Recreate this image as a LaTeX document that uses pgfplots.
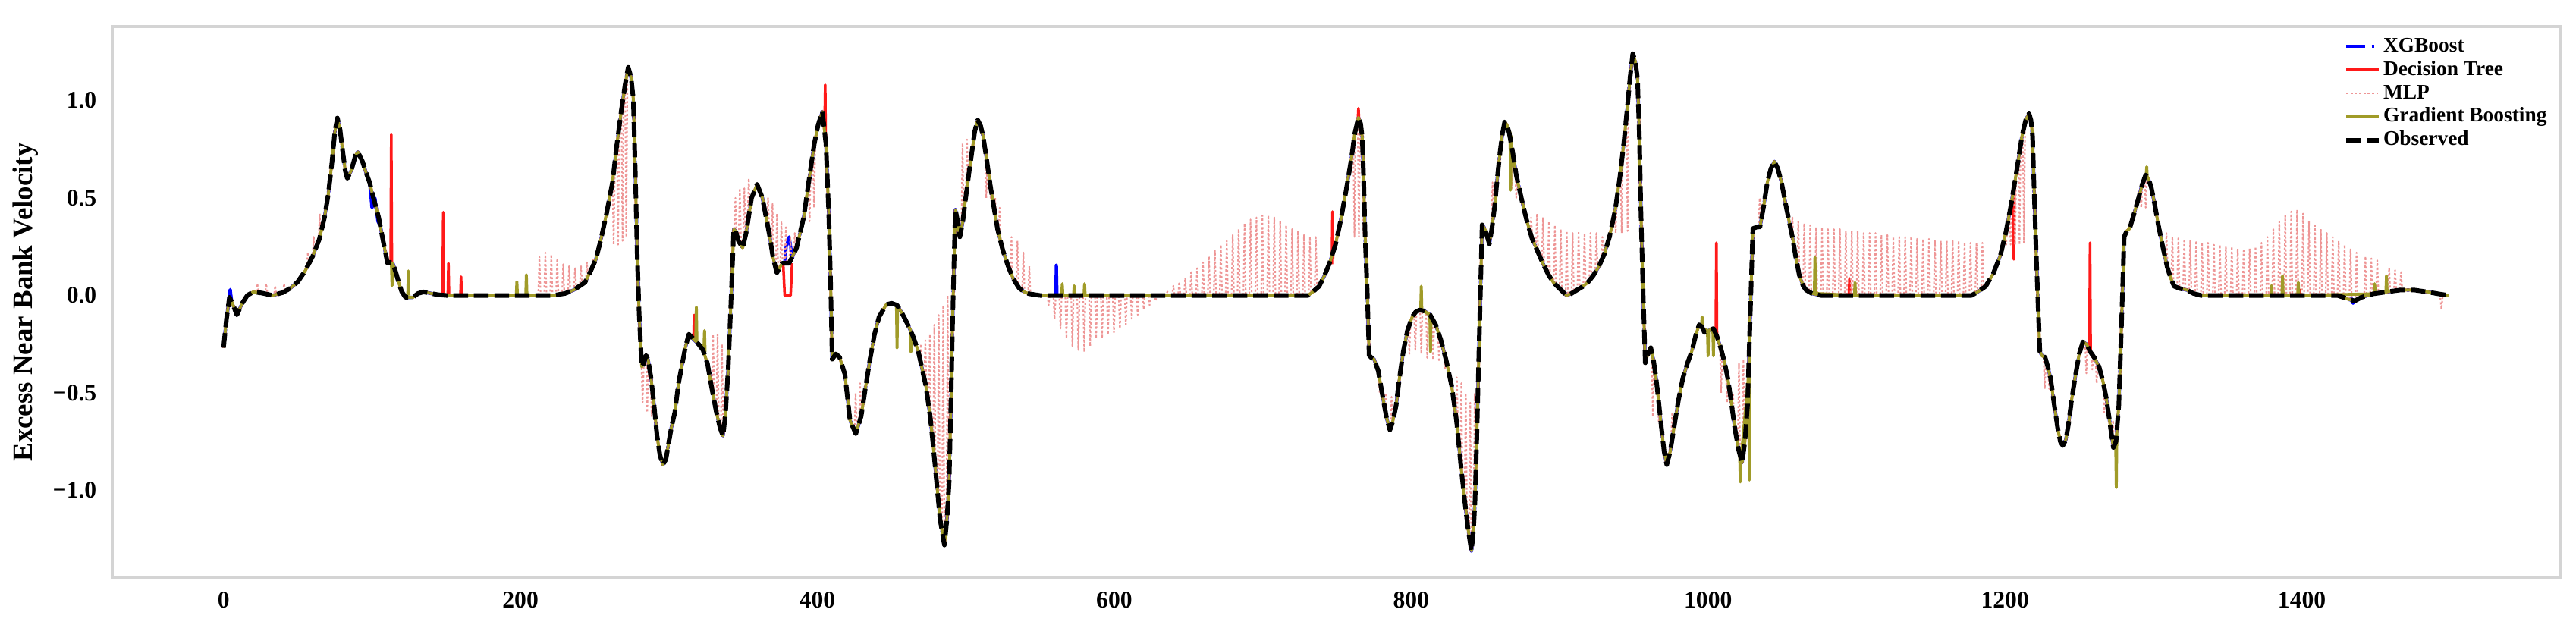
\documentclass[border=0pt]{standalone}
\usepackage{fontspec}
\setmainfont{Liberation Serif}
\usepackage{pgfplots}
\pgfplotsset{compat=1.18}
\usepackage{pgfplotstable}
\definecolor{xgbc}{RGB}{0,0,255}
\definecolor{dtc}{RGB}{255,25,25}
\definecolor{mlpc}{RGB}{238,150,150}
\definecolor{gbc}{RGB}{160,155,40}
\definecolor{framec}{RGB}{212,212,212}

\pgfplotstableread{
x y
0 -0.268
2 -0.12
4 -0.01
6 -0.04
9 -0.10
12.6 -0.04
16 0.0
20 0.018
26 0.012
33 0.0
40 0.015
45 0.037
50 0.07
55 0.126
60 0.2
64.6 0.29
68 0.40
70.6 0.52
73 0.68
75 0.84
76.7 0.91
78.5 0.85
80 0.756
82 0.64
83.4 0.60
86 0.64
89 0.72
90.5 0.736
93.6 0.687
96 0.63
98.4 0.58
101 0.50
104.5 0.40
107 0.30
110.5 0.165
112 0.17
114 0.165
116 0.12
118 0.067
120 0.02
122.6 -0.01
127.5 -0.01
131 0.01
134.7 0.018
140 0.01
144 0.004
150 0.0
170 0.0
190 0.0
210 0.0
222 0.0
230 0.01
236 0.028
243.5 0.067
247 0.12
250.8 0.185
254 0.28
258 0.42
262 0.58
265 0.776
268 0.95
270.5 1.08
272.6 1.17
274.5 1.12
276 1.01
277.5 0.6
278.6 0.22
280 -0.1
281.7 -0.366
283 -0.35
284.6 -0.307
286 -0.33
288 -0.425
290 -0.56
292 -0.72
294 -0.82
296 -0.868
298 -0.84
301.6 -0.68
304 -0.60
306.5 -0.45
308.6 -0.366
311 -0.27
313.4 -0.199
315 -0.21
317 -0.228
320 -0.25
323 -0.28
326 -0.35
329 -0.48
332 -0.60
334.5 -0.68
336.4 -0.72
338 -0.62
340 -0.37
342 0.0
343.7 0.34
345 0.33
346.8 0.28
349.7 0.244
352 0.32
355.7 0.50
359.4 0.57
363 0.50
365.5 0.40
368 0.30
370 0.20
372.7 0.116
376.3 0.165
381 0.165
386 0.244
390.8 0.40
395.6 0.657
398 0.78
400.5 0.874
403.4 0.943
405.8 0.776
407.7 0.42
409 0.05
410 -0.327
412.5 -0.30
415 -0.317
418.6 -0.405
422 -0.64
425.9 -0.71
429.5 -0.62
432.5 -0.47
435.5 -0.327
438.5 -0.2
441.6 -0.11
446.4 -0.047
450 -0.04
453.7 -0.05
457 -0.09
461 -0.15
464.5 -0.21
468 -0.287
473 -0.46
476 -0.62
477.9 -0.76
480.5 -0.97
482.7 -1.15
485.6 -1.28
487.3 -1.15
488.8 -0.957
490 -0.55
491 -0.17
492 0.15
493 0.44
494.5 0.38
496 0.30
498 0.38
499.6 0.48
502 0.62
504.5 0.756
506 0.84
508 0.90
510 0.87
511.7 0.815
514 0.70
516.6 0.56
519 0.45
521.4 0.34
525 0.23
528.7 0.146
532 0.085
536 0.037
540 0.015
543 0.008
550 0.0
600 0.0
650 0.0
700 0.0
730.7 0.0
734 0.02
738 0.047
741.5 0.1
745 0.165
749 0.26
752.4 0.38
756 0.53
759.7 0.70
762 0.83
764.5 0.913
766 0.88
767 0.815
768 0.60
769 0.30
770.5 0.0
771.7 -0.307
773.3 -0.32
775 -0.327
777.8 -0.386
779.5 -0.46
781.4 -0.543
783.5 -0.63
785.7 -0.69
787.5 -0.65
789.9 -0.563
792 -0.43
794.7 -0.287
797.5 -0.18
800.7 -0.11
803 -0.085
805.6 -0.075
809 -0.08
812.8 -0.10
816.5 -0.15
820 -0.228
823.5 -0.33
827.3 -0.465
830.5 -0.64
833.3 -0.858
836 -1.05
838.2 -1.19
840.6 -1.31
842 -1.2
843 -1.055
844.3 -0.7
845.4 -0.366
846.6 0.0
847.8 0.362
849 0.35
850 0.333
852.7 0.264
854.5 0.35
856.3 0.46
858 0.60
859.9 0.736
861.5 0.83
863 0.89
864.5 0.875
866 0.835
868.5 0.73
870.8 0.618
874.5 0.49
878 0.38
881.5 0.29
885.3 0.224
889 0.16
892.5 0.106
896 0.065
899.8 0.037
904.6 0.0
908 0.01
911.8 0.028
915.5 0.045
919 0.067
922.5 0.10
926.3 0.146
930 0.21
933.6 0.30
937.5 0.44
940.8 0.618
943.5 0.80
945.7 0.972
947.5 1.12
949.3 1.24
951 1.2
952.5 1.11
953.8 0.8
954.8 0.42
956.3 0.0
957.7 -0.346
959.5 -0.3
961.4 -0.268
963.2 -0.33
965 -0.425
966.8 -0.55
968.6 -0.68
970.4 -0.80
972.2 -0.868
974.5 -0.8
977 -0.68
980 -0.54
983 -0.425
986 -0.35
989 -0.287
991.5 -0.21
994 -0.15
995.8 -0.16
997.6 -0.19
1000.5 -0.18
1003.6 -0.17
1006 -0.21
1008.5 -0.268
1011 -0.34
1013.3 -0.425
1015.7 -0.55
1018 -0.68
1020.5 -0.79
1022.9 -0.858
1024.8 -0.75
1026.6 -0.563
1028.4 -0.1
1030.2 0.343
1032.6 0.35
1035 0.352
1037.5 0.46
1039.9 0.579
1042.3 0.65
1044.7 0.687
1047 0.65
1049.5 0.579
1053 0.44
1056.8 0.30
1059 0.2
1061.4 0.106
1064 0.05
1066 0.028
1070 0.01
1076 0.0
1120 0.0
1177.5 0.0
1182 0.02
1187 0.047
1192 0.11
1196.9 0.205
1200.5 0.32
1204 0.46
1207.7 0.63
1211.4 0.815
1214 0.90
1216.2 0.933
1217.5 0.9
1218.6 0.815
1219.8 0.5
1221 0.224
1222.3 -0.05
1223.5 -0.287
1225 -0.31
1227 -0.317
1229 -0.37
1230.7 -0.425
1233 -0.55
1235.5 -0.68
1237.3 -0.75
1239 -0.77
1241 -0.74
1242.8 -0.66
1245 -0.53
1247.6 -0.405
1250 -0.3
1252.5 -0.238
1255 -0.25
1257.3 -0.287
1260.3 -0.32
1263.4 -0.366
1266 -0.44
1268.2 -0.524
1270.6 -0.65
1273 -0.78
1274.8 -0.75
1276.7 -0.563
1278.5 -0.15
1280.3 0.30
1282 0.33
1284 0.343
1287 0.42
1290 0.50
1292.5 0.57
1294.8 0.618
1296.5 0.6
1298.4 0.56
1300.8 0.47
1303.3 0.362
1306.3 0.25
1309.3 0.146
1311.6 0.09
1314 0.047
1318 0.035
1322.6 0.028
1327 0.01
1332 0.0
1380 0.0
1424 0.0
1428 -0.01
1431.4 -0.02
1435.7 -0.028
1440 -0.01
1448 0.008
1457 0.018
1466.5 0.028
1475.5 0.028
1484.6 0.018
1492 0.008
1499 0.0
}\obs

\begin{document}
\begin{tikzpicture}
\begin{axis}[
  scale only axis, width=32.27cm, height=7.27cm,
  xmin=-74.95, xmax=1573.95, ymin=-1.449, ymax=1.379,
  unbounded coords=jump,
  axis line style={draw=framec, line width=0.9pt},
  major tick length=0pt,
  xtick={0,200,400,600,800,1000,1200,1400},
  xticklabels={0,200,400,600,800,1000,1200,1400},
  ytick={-1,-0.5,0,0.5,1},
  yticklabels={−1.0,−0.5,0.0,0.5,1.0},
  ticklabel style={font=\fontsize{9}{10}\selectfont\bfseries},
  xticklabel style={inner sep=0pt, yshift=-0.18cm},
  yticklabel style={inner sep=0pt, xshift=-0.2cm},
  ylabel={Excess Near Bank Velocity},
  ylabel style={font=\fontsize{10.5}{12}\selectfont\bfseries, at={(axis description cs:-0.0353,0.5)}, anchor=center},
  legend style={draw=none, fill=none, at={(1,1)}, anchor=north east, xshift=-0.14cm, yshift=-0.1cm,
    font=\fontsize{7.8}{9}\selectfont\bfseries, inner sep=0pt, row sep=0pt,
    nodes={inner sep=0.8pt, text height=5.6pt, text depth=1.6pt}},
  legend cell align=left,
  legend image code/.code={\draw[#1] (0cm,0cm) -- (0.43cm,0cm);},
  every axis plot/.append style={line join=round},
]
% XGBoost
\addplot[color=xgbc, line width=1.3pt, dash pattern=on 7pt off 2.5pt on 1pt off 2.5pt] table[x=x,y=y] {\obs};
\addlegendentry{XGBoost}
\addplot[color=xgbc, line width=1.2pt, forget plot] coordinates {
(3.5,-0.02)(4.5,0.03)(5.5,-0.03)(6,nan)
(98.4,0.58)(100,0.45)(102,0.5)(104,0.38)(105.5,0.36)(106,nan)
(378,0.165)(379,0.25)(381,0.3)(383,0.2)(384.5,0.2)(385,nan)
(560.6,0)(561,0.155)(561.4,0)(562,nan)
(1433,-0.01)(1434.5,-0.04)(1436,-0.02)
};
% Decision Tree
\addplot[color=dtc, line width=1pt] table[x=x,y=y] {\obs};
\addlegendentry{Decision Tree}
\addplot[color=dtc, line width=1pt, forget plot] coordinates {
(112.6,0.17)(113,0.825)(113.4,0.165)(114,nan)
(147.6,0)(148,0.427)(148.4,0)(151.1,0)(151.5,0.165)(151.9,0)(159.6,0)(160,0.096)(160.4,0)(161,nan)
(316.6,-0.225)(317,-0.10)(317.4,-0.23)(318,nan)
(377,0.165)(378,0.0)(382,0.0)(383,0.165)(384,nan)
(404.9,0.86)(405.3,1.08)(405.7,0.75)(407,nan)
(746.6,0.16)(747,0.43)(747.4,0.19)(748,nan)
(764.1,0.9)(764.5,0.96)(764.9,0.9)(766,nan)
(1005.2,-0.2)(1005.6,0.27)(1006,-0.2)(1007,nan)
(1094.9,0)(1095.3,0.087)(1095.7,0)(1097,nan)
(1205.6,0.52)(1206,0.185)(1206.4,0.55)(1207,nan)
(1256.9,-0.28)(1257.3,0.27)(1257.7,-0.29)(1259,nan)
(1398.1,0)(1398.5,0.03)(1398.9,0)
};
% MLP
\addplot[color=mlpc, line width=0.6pt, dash pattern=on 0.8pt off 0.8pt] table[x=x,y=y] {\obs};
\addlegendentry{MLP}
\addplot[color=mlpc, line width=0.6pt, dash pattern=on 0.8pt off 0.8pt, forget plot] coordinates {
(22,0.02)(22.8,0.06)(23.6,0.02)(28,0.01)(28.8,0.06)(29.6,0.01)(34,0.0)(34.8,0.05)(35.6,0.0)(40,0.015)(40.8,0.06)(41.6,0.02)(44,0.03)(44.5,nan)
(56,0.14)(56.8,0.22)(57.6,0.16)(60,0.2)(60.8,0.3)(61.6,0.22)(64,0.28)(64.8,0.42)(65.6,0.31)(66,nan)
(212,0)(212.8,0.2)(213.6,0)(216,0)(216.8,0.22)(217.6,0)(220,0)(220.8,0.21)(221.6,0)(224,0)(224.8,0.19)(225.6,0)(228,0.005)(228.8,0.16)(229.6,0.008)(232,0.015)(232.8,0.15)(233.6,0.02)(236,0.028)(236.8,0.14)(237.6,0.035)(240,0.045)(240.8,0.15)(241.6,0.05)(244,0.07)(244.8,0.17)(245.6,0.09)(248,0.14)(248.8,0.19)(249.6,0.16)(250,nan)
(262,0.58)(262.8,0.26)(263.6,0.66)(265,0.78)(265.8,0.26)(266.6,0.85)(268,0.95)(268.8,0.28)(269.6,1.02)(270.5,1.08)(271.3,0.3)(272.1,1.15)(273,nan)
(281.5,-0.35)(282.3,-0.55)(283.1,-0.35)(284.6,-0.307)(285.4,-0.6)(286.2,-0.34)(287.6,-0.4)(288.4,-0.62)(289.2,-0.5)(290,nan)
(329,-0.48)(329.8,-0.2)(330.6,-0.53)(332,-0.6)(332.8,-0.2)(333.6,-0.65)(335,-0.7)(335.8,-0.25)(336.6,-0.71)(337,nan)
(344,0.34)(344.8,0.5)(345.6,0.32)(347,0.28)(347.8,0.55)(348.6,0.26)(350,0.25)(350.8,0.55)(351.6,0.3)(353,0.38)(353.8,0.6)(354.6,0.45)(355,nan)
(366,0.38)(366.8,0.5)(367.6,0.32)(369,0.25)(369.8,0.47)(370.6,0.18)(372,0.13)(372.8,0.42)(373.6,0.12)(375,0.15)(375.8,0.38)(376.6,0.165)(378,0.165)(378.8,0.35)(379.6,0.165)(381,0.165)(381.8,0.3)(382.6,0.18)(384,0.21)(384.8,0.32)(385.6,0.23)(386,nan)
(394,0.58)(394.8,0.38)(395.6,0.66)(397,0.74)(397.8,0.45)(398.6,0.8)(399,nan)
(425,-0.71)(425.8,-0.5)(426.6,-0.7)(428,-0.66)(428.8,-0.45)(429.6,-0.62)(430,nan)
(469,-0.33)(469.8,-0.25)(470.6,-0.37)(472,-0.42)(472.8,-0.23)(473.6,-0.48)(475,-0.57)(475.8,-0.2)(476.6,-0.64)(478,-0.77)(478.8,-0.15)(479.6,-0.87)(481,-1.0)(481.8,-0.1)(482.6,-1.14)(484,-1.22)(484.8,-0.05)(485.6,-1.28)(487,-1.18)(487.8,0.0)(488.6,-0.96)(489,nan)
(497,0.33)(497.8,0.78)(498.6,0.4)(500,0.5)(500.8,0.8)(501.6,0.58)(502,nan)
(513,0.74)(513.8,0.5)(514.6,0.68)(516,0.58)(516.8,0.5)(517.6,0.52)(519,0.45)(519.8,0.5)(520.6,0.38)(522,0.32)(522.8,0.45)(523.6,0.27)(524,nan)
(530,0.12)(530.8,0.3)(531.6,0.09)(534,0.06)(534.8,0.28)(535.6,0.045)(538,0.03)(538.8,0.22)(539.6,0.02)(542,0.01)(542.8,0.15)(543.6,0.008)(544,nan)
(555,0)(555.8,-0.05)(556.6,0)(559,0)(559.8,-0.12)(560.6,0)(563,0)(563.8,-0.17)(564.6,0)(567,0)(567.8,-0.22)(568.6,0)(571,0)(571.8,-0.26)(572.6,0)(575,0)(575.8,-0.28)(576.6,0)(579,0)(579.8,-0.29)(580.6,0)(583,0)(583.8,-0.26)(584.6,0)(587,0)(587.8,-0.22)(588.6,0)(591,0)(591.8,-0.22)(592.6,0)(595,0)(595.8,-0.2)(596.6,0)(599,0)(599.8,-0.19)(600.6,0)(603,0)(603.8,-0.17)(604.6,0)(607,0)(607.8,-0.15)(608.6,0)(611,0)(611.8,-0.12)(612.6,0)(615,0)(615.8,-0.1)(616.6,0)(619,0)(619.8,-0.07)(620.6,0)(623,0)(623.8,-0.05)(624.6,0)(627,0)(627.8,-0.03)(628.6,0)
(635,0)(635.8,0.02)(636.6,0)(639,0)(639.8,0.05)(640.6,0)(643,0)(643.8,0.07)(644.6,0)(647,0)(647.8,0.09)(648.6,0)(651,0)(651.8,0.12)(652.6,0)(655,0)(655.8,0.14)(656.6,0)(659,0)(659.8,0.17)(660.6,0)(663,0)(663.8,0.2)(664.6,0)(667,0)(667.8,0.23)(668.6,0)(671,0)(671.8,0.26)(672.6,0)(675,0)(675.8,0.28)(676.6,0)(679,0)(679.8,0.31)(680.6,0)(683,0)(683.8,0.34)(684.6,0)(687,0)(687.8,0.37)(688.6,0)(691,0)(691.8,0.39)(692.6,0)(695,0)(695.8,0.4)(696.6,0)(699,0)(699.8,0.41)(700.6,0)(703,0)(703.8,0.41)(704.6,0)(707,0)(707.8,0.4)(708.6,0)(711,0)(711.8,0.38)(712.6,0)(715,0)(715.8,0.36)(716.6,0)(719,0)(719.8,0.34)(720.6,0)(723,0)(723.8,0.33)(724.6,0)(727,0)(727.8,0.31)(728.6,0)(731,0.005)(731.8,0.3)(732.6,0.01)(735,0.03)(735.8,0.3)(736.6,0.04)(737,nan)
(761,0.77)(761.8,0.3)(762.6,0.86)(764,0.91)(764.8,0.3)(765.6,0.9)(767,0.815)(767.8,0.32)(768.4,0.5)(769,nan)
(778,-0.4)(778.8,-0.5)(779.6,-0.46)(782,-0.57)(782.8,-0.5)(783.6,-0.63)(786,-0.69)(786.8,-0.52)(787.6,-0.65)(788,nan)
(798,-0.16)(798.8,-0.3)(799.6,-0.13)(802,-0.095)(802.8,-0.28)(803.6,-0.085)(806,-0.075)(806.8,-0.3)(807.6,-0.078)(810,-0.085)(810.8,-0.32)(811.6,-0.095)(814,-0.12)(814.8,-0.33)(815.6,-0.14)(818,-0.18)(818.8,-0.34)(819.6,-0.21)(822,-0.29)(822.8,-0.38)(823.6,-0.33)(824,nan)
(830,-0.6)(830.8,-0.42)(831.6,-0.72)(833,-0.85)(833.8,-0.45)(834.6,-0.95)(836,-1.05)(836.8,-0.5)(837.6,-1.15)(839,-1.25)(839.8,-0.55)(840.6,-1.31)(842,-1.2)(842.8,-0.5)(843.6,-0.85)(844,nan)
(854,0.33)(854.8,0.58)(855.6,0.42)(857,0.55)(857.8,0.6)(858.6,0.6)(859,nan)
(867,0.8)(867.8,0.55)(868.6,0.74)(870,0.65)(870.8,0.5)(871.6,0.6)(872,nan)
(880,0.33)(880.8,0.4)(881.6,0.3)(884,0.24)(884.8,0.42)(885.6,0.22)(888,0.17)(888.8,0.4)(889.6,0.16)(892,0.11)(892.8,0.38)(893.6,0.1)(896,0.065)(896.8,0.36)(897.6,0.06)(900,0.035)(900.8,0.34)(901.6,0.03)(904,0.0)(904.8,0.33)(905.6,0.0)(908,0.01)(908.8,0.32)(909.6,0.015)(912,0.03)(912.8,0.33)(913.6,0.035)(916,0.05)(916.8,0.32)(917.6,0.055)(920,0.08)(920.8,0.32)(921.6,0.09)(924,0.12)(924.8,0.32)(925.6,0.14)(928,0.18)(928.8,0.3)(929.6,0.2)(930,nan)
(937,0.42)(937.8,0.32)(938.6,0.5)(941,0.63)(941.8,0.32)(942.6,0.72)(945,0.95)(945.8,0.33)(946.6,1.03)(947,nan)
(962,-0.3)(962.8,-0.62)(963.6,-0.33)(966,-0.53)(966.8,-0.65)(967.6,-0.6)(971,-0.84)(972.2,-0.868)(975,-0.77)(975.8,-0.6)(976.6,-0.7)(979,-0.58)(979.8,-0.55)(980.6,-0.52)(981,nan)
(1008,-0.26)(1008.8,-0.5)(1009.6,-0.3)(1012,-0.38)(1012.8,-0.55)(1013.6,-0.43)(1016,-0.57)(1016.8,-0.5)(1017.6,-0.65)(1020,-0.77)(1020.8,-0.35)(1021.6,-0.82)(1023,-0.858)(1023.8,-0.33)(1024.6,-0.76)(1025,nan)
(1034,0.35)(1034.8,0.5)(1035.6,0.38)(1038,0.5)(1038.8,0.52)(1039.6,0.56)(1040,nan)
(1052,0.46)(1052.8,0.4)(1053.6,0.42)(1056,0.32)(1056.8,0.4)(1057.6,0.27)(1060,0.15)(1060.8,0.38)(1061.6,0.1)(1064,0.05)(1064.8,0.37)(1065.6,0.03)(1068,0.015)(1068.8,0.36)(1069.6,0.01)(1072,0.005)(1072.8,0.35)(1073.6,0)
(1076,0)(1076.8,0.35)(1077.6,0)(1080,0)(1080.8,0.34)(1081.6,0)(1084,0)(1084.8,0.34)(1085.6,0)(1088,0)(1088.8,0.34)(1089.6,0)(1092,0)(1092.8,0.33)(1093.6,0)(1096,0)(1096.8,0.33)(1097.6,0)(1100,0)(1100.8,0.33)(1101.6,0)(1104,0)(1104.8,0.32)(1105.6,0)(1108,0)(1108.8,0.32)(1109.6,0)(1112,0)(1112.8,0.32)(1113.6,0)(1116,0)(1116.8,0.31)(1117.6,0)(1120,0)(1120.8,0.31)(1121.6,0)(1124,0)(1124.8,0.3)(1125.6,0)(1128,0)(1128.8,0.3)(1129.6,0)(1132,0)(1132.8,0.3)(1133.6,0)(1136,0)(1136.8,0.3)(1137.6,0)(1140,0)(1140.8,0.29)(1141.6,0)(1144,0)(1144.8,0.29)(1145.6,0)(1148,0)(1148.8,0.29)(1149.6,0)(1152,0)(1152.8,0.28)(1153.6,0)(1156,0)(1156.8,0.28)(1157.6,0)(1160,0)(1160.8,0.28)(1161.6,0)(1164,0)(1164.8,0.28)(1165.6,0)(1168,0)(1168.8,0.28)(1169.6,0)(1172,0)(1172.8,0.27)(1173.6,0)(1176,0)(1176.8,0.27)(1177.6,0)(1180,0.01)(1180.8,0.27)(1181.6,0.015)(1184,0.03)(1184.8,0.27)(1185.6,0.04)(1186,nan)
(1200,0.31)(1200.8,0.26)(1201.6,0.35)(1203,0.4)(1203.8,0.26)(1204.6,0.49)(1206,0.57)(1206.8,0.26)(1207.6,0.64)(1209,0.7)(1209.8,0.26)(1210.6,0.78)(1212,0.84)(1212.8,0.27)(1213.6,0.89)(1214,nan)
(1226,-0.315)(1226.8,-0.48)(1227.6,-0.33)(1229,-0.37)(1229.8,-0.48)(1230.6,-0.42)(1231,nan)
(1254,-0.245)(1254.8,-0.4)(1255.6,-0.26)(1258,-0.3)(1258.8,-0.38)(1259.6,-0.31)(1261,-0.33)(1261.8,-0.45)(1262.6,-0.36)(1263,nan)
(1266,-0.44)(1266.8,-0.6)(1267.6,-0.5)(1269,-0.57)(1269.8,-0.62)(1270.6,-0.65)(1272,-0.73)(1272.8,-0.64)(1273.6,-0.77)(1274,nan)
(1291,0.53)(1291.8,0.45)(1292.6,0.57)(1294,0.61)(1294.8,0.45)(1295.6,0.61)(1296,nan)
(1308,0.18)(1308.8,0.32)(1309.6,0.14)(1312,0.08)(1312.8,0.3)(1313.6,0.05)(1316,0.04)(1316.8,0.3)(1317.6,0.035)(1320,0.03)(1320.8,0.29)(1321.6,0.028)(1324,0.02)(1324.8,0.28)(1325.6,0.015)(1328,0.01)(1328.8,0.28)(1329.6,0.005)
(1332,0)(1332.8,0.27)(1333.6,0)(1336,0)(1336.8,0.27)(1337.6,0)(1340,0)(1340.8,0.26)(1341.6,0)(1344,0)(1344.8,0.26)(1345.6,0)(1348,0)(1348.8,0.25)(1349.6,0)(1352,0)(1352.8,0.25)(1353.6,0)(1356,0)(1356.8,0.24)(1357.6,0)(1360,0)(1360.8,0.24)(1361.6,0)(1364,0)(1364.8,0.24)(1365.6,0)(1368,0)(1368.8,0.25)(1369.6,0)(1372,0)(1372.8,0.27)(1373.6,0)(1376,0)(1376.8,0.3)(1377.6,0)(1380,0)(1380.8,0.34)(1381.6,0)(1384,0)(1384.8,0.38)(1385.6,0)(1388,0)(1388.8,0.41)(1389.6,0)(1392,0)(1392.8,0.43)(1393.6,0)(1396,0)(1396.8,0.44)(1397.6,0)(1400,0)(1400.8,0.42)(1401.6,0)(1404,0)(1404.8,0.38)(1405.6,0)(1408,0)(1408.8,0.36)(1409.6,0)(1412,0)(1412.8,0.34)(1413.6,0)(1416,0)(1416.8,0.32)(1417.6,0)(1420,0)(1420.8,0.3)(1421.6,0)(1424,0)(1424.8,0.28)(1425.6,0)(1428,-0.01)(1428.8,0.26)(1429.6,-0.015)(1432,-0.02)(1432.8,0.24)(1433.6,-0.025)(1436,-0.028)(1436.8,0.22)(1437.6,-0.025)(1442,-0.005)(1442.8,0.2)(1443.6,0)(1446,0.003)(1446.8,0.19)(1447.6,0.005)(1450,0.01)(1450.8,0.18)(1451.6,0.01)(1458,0.018)(1458.8,0.14)(1459.6,0.02)(1462,0.022)(1462.8,0.13)(1463.6,0.024)(1466,0.028)(1466.8,0.12)(1467.6,0.028)(1468,nan)
(1493,0.008)(1494,-0.07)(1495,0.005)
};
% Gradient Boosting
\addplot[color=gbc, line width=1.1pt] table[x=x,y=y] {\obs};
\addlegendentry{Gradient Boosting}
\addplot[color=gbc, line width=1.1pt, forget plot] coordinates {
(113.1,0.167)(113.5,0.05)(113.9,0.16)(115,nan)
(124.1,0)(124.5,0.126)(124.9,0)(126,nan)
(197.2,0)(197.6,0.07)(198,0)(203.6,0)(204,0.106)(204.4,0)(205,nan)
(318.1,-0.23)(318.5,-0.06)(318.9,-0.24)(323.6,-0.27)(324,-0.18)(324.4,-0.29)(325,nan)
(453.3,-0.05)(453.7,-0.27)(454.1,-0.05)(455,nan)
(462.6,-0.17)(463,-0.29)(463.4,-0.19)(464,nan)
(564.6,0)(565,0.06)(565.4,0)(572.6,0)(573,0.05)(573.4,0)(579.6,0)(580,0.06)(580.4,0)(581,nan)
(806.4,-0.075)(806.8,0.047)(807.2,-0.075)(812.6,-0.1)(813,-0.29)(813.4,-0.1)(814,nan)
(866.6,0.84)(867,0.54)(867.4,0.82)(868,nan)
(995.6,-0.16)(996,-0.11)(996.4,-0.17)(999.6,-0.18)(1000,-0.31)(1000.4,-0.18)(1003.2,-0.17)(1003.6,-0.31)(1004,-0.18)(1005,nan)
(1021.3,-0.82)(1021.7,-0.957)(1022.1,-0.85)(1027.4,-0.4)(1027.8,-0.947)(1028.2,-0.2)(1029,nan)
(1071.6,0.01)(1072,0.195)(1072.4,0.01)(1098.6,0)(1099,0.067)(1099.4,0)(1100,nan)
(1274.6,-0.76)(1275,-0.986)(1275.4,-0.7)(1276,nan)
(1295.1,0.61)(1295.5,0.66)(1295.9,0.6)(1297,nan)
(1379.1,0)(1379.5,0.05)(1379.9,0)(1386.6,0)(1387,0.10)(1387.4,0)(1397.2,0)(1397.6,0.067)(1398,0)(1448.6,0.008)(1449,0.06)(1449.4,0.01)(1456.6,0.018)(1457,0.10)(1457.4,0.018)
};
% Observed
\addplot[color=black, line width=1.7pt, dash pattern=on 5.5pt off 2.2pt] table[x=x,y=y] {\obs};
\addlegendentry{Observed}
\end{axis}
\pgfresetboundingbox
\path (current axis.south west)+(-1.48cm,-0.65cm) rectangle ([shift={(0.21cm,0.35cm)}]current axis.north east);
\end{tikzpicture}
\end{document}
